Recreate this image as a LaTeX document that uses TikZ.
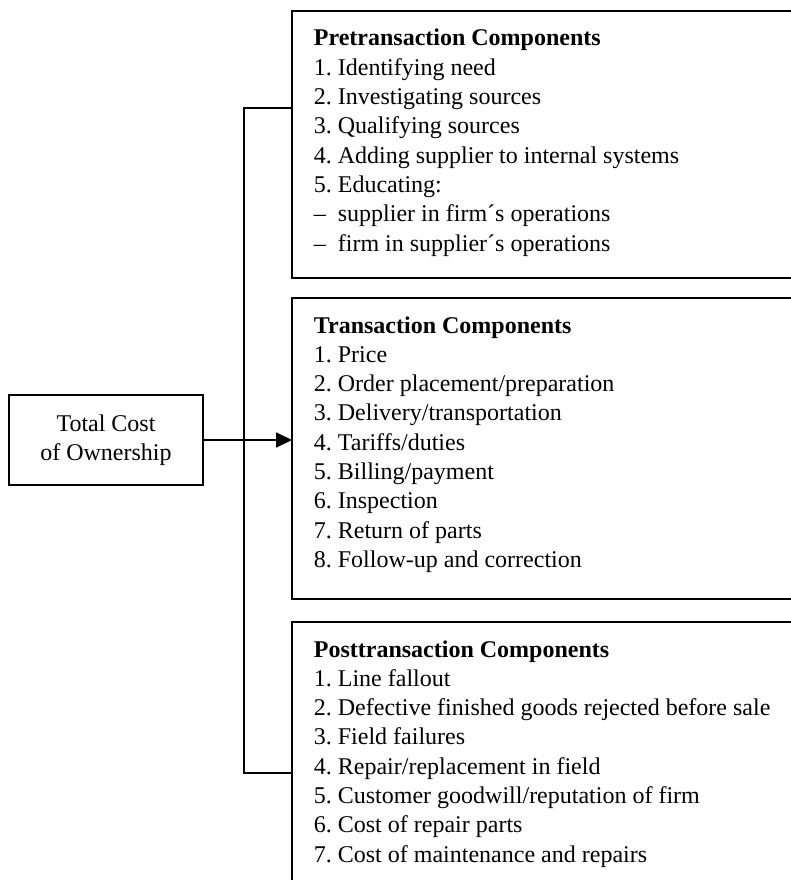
\documentclass[tikz,border=0pt]{standalone}
\usepackage{fontspec}
\setmainfont{Liberation Serif}
\usetikzlibrary{arrows.meta}
\begin{document}
\begin{tikzpicture}[x=1pt,y=-1pt,line width=1.8pt,
	every node/.style={font=\fontsize{24}{29}\selectfont\frenchspacing,inner sep=0pt},
	box/.style={draw,rectangle,anchor=north west,outer sep=0pt},
	item/.style={anchor=base west},
	arr/.style={-{Triangle[length=16pt,width=15pt]}}]
	
	\useasboundingbox (0,0) rectangle (791,880);
	\clip (0,0) rectangle (791,880);% boxes run past the right and lower edge
	
	\node[box,minimum width=194,minimum height=90,align=center] (tco) at (9,395) {Total Cost\\of Ownership};
	\node[box,minimum width=520,minimum height=267] (pre) at (292,11) {};
	\node[box,minimum width=520,minimum height=301] (tra) at (292,298) {};
	\node[box,minimum width=520,minimum height=290] (post) at (292,622) {};
	
	\path (313,46) node[item] (pre0) {\bfseries Pretransaction Components};
	\foreach \t [count=\i] in {{1. Identifying need},{2. Investigating sources},{3. Qualifying sources},
		{4. Adding supplier to internal systems},{5. Educating:},
		{–\enskip supplier in firm´s operations},{–\enskip firm in supplier´s operations}}
	\path (313,46+29.3*\i) node[item] (pre\i) {\t};
	
	\path (313,333) node[item] (tra0) {\bfseries Transaction Components};
	\foreach \t [count=\i] in {{1. Price},{2. Order placement/preparation},{3. Delivery/transportation},
		{4. Tariffs/duties},{5. Billing/payment},{6. Inspection},{7. Return of parts},
		{8. Follow-up and correction}}
	\path (313,333+29.3*\i) node[item] (tra\i) {\t};
	
	\path (313,657) node[item] (post0) {\bfseries Posttransaction Components};
	\foreach \t [count=\i] in {{1. Line fallout},{2. Defective finished goods rejected before sale},
		{3. Field failures},{4. Repair/replacement in field},{5. Customer goodwill/reputation of firm},
		{6. Cost of repair parts},{7. Cost of maintenance and repairs}}
	\path (313,657+29.3*\i) node[item] (post\i) {\t};
	
	\coordinate (bt) at (244,108);% bracket corners
	\coordinate (bb) at (244,773);
	\draw (pre.west |- bt) -- (bt) -- (bb) -- (post.west |- bb);
	\draw[arr] (tco.east) -- (tco.east -| tra.west);
\end{tikzpicture}
\end{document}
